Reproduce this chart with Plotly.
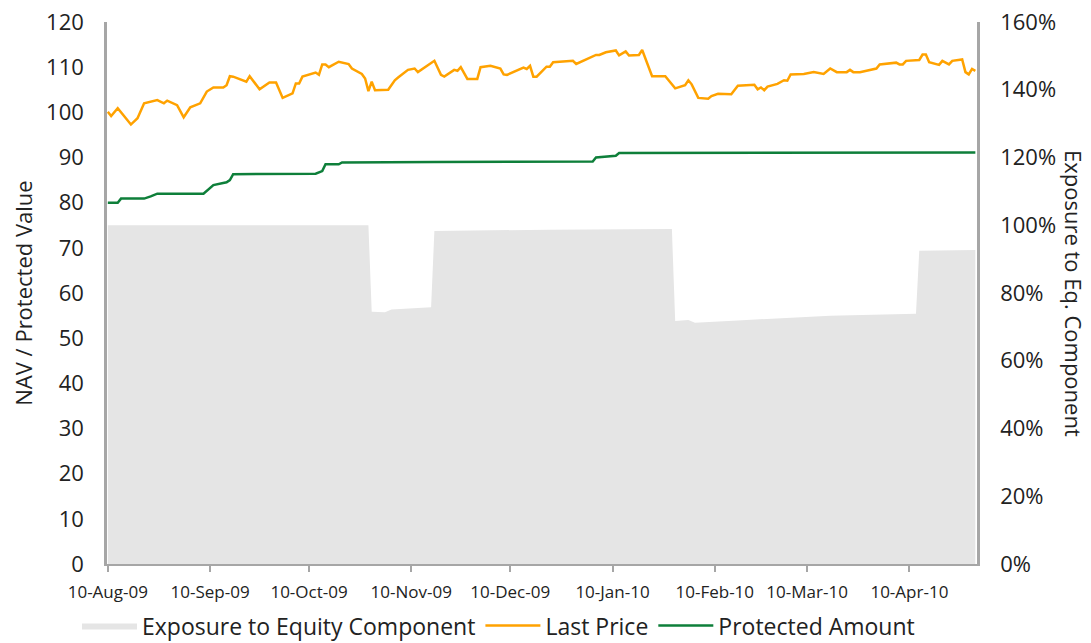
import plotly.graph_objects as go

# ---- Data ----
price_dates = [
    "2009-08-10", "2009-08-11", "2009-08-13", "2009-08-17", "2009-08-19", "2009-08-21",
    "2009-08-25", "2009-08-27", "2009-08-28", "2009-08-31", "2009-09-02", "2009-09-04",
    "2009-09-07", "2009-09-09", "2009-09-11", "2009-09-14", "2009-09-15", "2009-09-16",
    "2009-09-17", "2009-09-21", "2009-09-22", "2009-09-24", "2009-09-25", "2009-09-28",
    "2009-09-30", "2009-10-02", "2009-10-05", "2009-10-06", "2009-10-07", "2009-10-08",
    "2009-10-12", "2009-10-13", "2009-10-14", "2009-10-15", "2009-10-16", "2009-10-19",
    "2009-10-22", "2009-10-23", "2009-10-26", "2009-10-27", "2009-10-28", "2009-10-29",
    "2009-10-30", "2009-11-03", "2009-11-05", "2009-11-06", "2009-11-09", "2009-11-11",
    "2009-11-12", "2009-11-17", "2009-11-19", "2009-11-20", "2009-11-23", "2009-11-24",
    "2009-11-25", "2009-11-27", "2009-11-30", "2009-12-01", "2009-12-04", "2009-12-07",
    "2009-12-08", "2009-12-09", "2009-12-11", "2009-12-14", "2009-12-15", "2009-12-16",
    "2009-12-17", "2009-12-18", "2009-12-21", "2009-12-22", "2009-12-23", "2009-12-29",
    "2009-12-30", "2010-01-05", "2010-01-06", "2010-01-08", "2010-01-11", "2010-01-12",
    "2010-01-14", "2010-01-15", "2010-01-18", "2010-01-19", "2010-01-22", "2010-01-25",
    "2010-01-26", "2010-01-27", "2010-01-29", "2010-02-01", "2010-02-02", "2010-02-03",
    "2010-02-05", "2010-02-08", "2010-02-09", "2010-02-11", "2010-02-15", "2010-02-17",
    "2010-02-19", "2010-02-22", "2010-02-23", "2010-02-24", "2010-02-25", "2010-02-26",
    "2010-03-01", "2010-03-03", "2010-03-04", "2010-03-05", "2010-03-09", "2010-03-12",
    "2010-03-15", "2010-03-17", "2010-03-19", "2010-03-22", "2010-03-23", "2010-03-24",
    "2010-03-26", "2010-03-31", "2010-04-01", "2010-04-06", "2010-04-07", "2010-04-08",
    "2010-04-09", "2010-04-13", "2010-04-14", "2010-04-15", "2010-04-16", "2010-04-19",
    "2010-04-20", "2010-04-22", "2010-04-23", "2010-04-26", "2010-04-27", "2010-04-28",
    "2010-04-29", "2010-04-30",
]
last_price = [
    100.1, 99.2, 100.9, 97.3, 98.7, 102.0,
    102.7, 102.0, 102.6, 101.6, 98.9, 101.1,
    102.0, 104.6, 105.5, 105.5, 106.0, 108.0,
    107.9, 106.8, 108.0, 106.0, 105.1, 106.6,
    106.6, 103.2, 104.2, 106.4, 106.4, 107.9,
    108.8, 108.3, 110.6, 110.6, 110.0, 111.2,
    110.7, 109.7, 108.5, 107.5, 104.7, 106.8,
    104.9, 105.0, 107.1, 107.7, 109.4, 109.7,
    108.9, 111.4, 108.3, 107.9, 109.4, 109.2,
    110.0, 107.4, 107.4, 110.0, 110.3, 109.7,
    108.4, 108.3, 109.0, 109.9, 109.6, 110.3,
    107.9, 107.9, 110.1, 110.1, 111.1, 111.4,
    110.7, 112.7, 112.7, 113.3, 113.7, 112.6,
    113.5, 112.6, 112.7, 113.8, 108.0, 108.0,
    108.0, 107.1, 105.3, 106.0, 107.1, 106.2,
    103.2, 103.0, 103.6, 104.1, 104.0, 105.9,
    106.0, 106.1, 105.1, 105.5, 104.9, 105.7,
    106.3, 107.1, 107.0, 108.4, 108.5, 108.9,
    108.5, 109.7, 108.9, 108.9, 109.4, 108.9,
    108.9, 109.7, 110.6, 111.0, 110.6, 110.6,
    111.4, 111.6, 112.8, 112.8, 111.1, 110.5,
    111.4, 110.6, 111.4, 111.7, 108.9, 108.4,
    109.6, 109.2,
]

protected_dates = [
    "2009-08-10", "2009-08-13", "2009-08-14", "2009-08-21", "2009-08-23", "2009-08-25",
    "2009-09-08", "2009-09-11", "2009-09-15", "2009-09-16", "2009-09-17", "2009-10-12",
    "2009-10-14", "2009-10-15", "2009-10-19", "2009-10-20", "2009-11-17", "2010-01-04",
    "2010-01-05", "2010-01-08", "2010-01-11", "2010-01-12", "2010-01-19", "2010-01-20",
    "2010-04-30",
]
protected_amount = [
    80.0, 80.0, 80.9, 80.9, 81.4, 82.0,
    82.0, 83.9, 84.5, 85.0, 86.3, 86.4,
    87.0, 88.5, 88.5, 88.9, 89.0, 89.1,
    90.0, 90.2, 90.4, 91.0, 91.0, 91.1,
    91.1,
]

exposure_dates = [
    "2009-08-10", "2009-10-28", "2009-10-29", "2009-11-02", "2009-11-04", "2009-11-16",
    "2009-11-17", "2009-12-22", "2010-01-28", "2010-01-29", "2010-02-02", "2010-02-04",
    "2010-02-17", "2010-03-04", "2010-03-17", "2010-04-12", "2010-04-13", "2010-04-30",
]
exposure_pct = [
    100.0, 100.0, 74.5, 74.3, 75.1, 75.8,
    98.3, 98.7, 98.9, 71.7, 72.0, 71.2,
    71.9, 72.7, 73.3, 73.9, 92.5, 92.7,
]

tick_dates = [
    "2009-08-10", "2009-09-10", "2009-10-10", "2009-11-10", "2009-12-10",
    "2010-01-10", "2010-02-10", "2010-03-10", "2010-04-10",
]
tick_labels = [
    "10-Aug-09", "10-Sep-09", "10-Oct-09", "10-Nov-09", "10-Dec-09",
    "10-Jan-10", "10-Feb-10", "10-Mar-10", "10-Apr-10",
]
left_ticks = [0, 10, 20, 30, 40, 50, 60, 70, 80, 90, 100, 110, 120]
right_ticks = [0, 20, 40, 60, 80, 100, 120, 140, 160]
right_labels = ["0%", "20%", "40%", "60%", "80%", "100%", "120%", "140%", "160%"]

FONT = "Open Sans"
TXT = "#222222"
AXIS = "#a6a6a6"

fig = go.Figure()

fig.add_trace(go.Scatter(
    x=exposure_dates, y=exposure_pct, yaxis="y2",
    name="Exposure to Equity Component",
    mode="lines", line=dict(width=0, color="#e5e5e5"),
    fill="tozeroy", fillcolor="#e5e5e5",
))
fig.add_trace(go.Scatter(
    x=price_dates, y=last_price, name="Last Price",
    mode="lines", line=dict(color="#ffa200", width=2.5),
))
fig.add_trace(go.Scatter(
    x=protected_dates, y=protected_amount, name="Protected Amount",
    mode="lines", line=dict(color="#0e7f3a", width=2.5),
))

fig.update_layout(
    width=1091, height=643,
    margin=dict(l=107, r=114, t=22, b=79, autoexpand=False),
    paper_bgcolor="white", plot_bgcolor="white",
    font=dict(family=FONT, color=TXT, size=22),
    showlegend=True,
    legend=dict(
        orientation="h", x=0.45, xanchor="center", y=-0.074, yanchor="top",
        font=dict(family=FONT, size=23, color=TXT),
        itemwidth=55, tracegroupgap=0, traceorder="normal",
    ),
    xaxis=dict(
        type="date",
        range=["2009-08-09T18:00", "2010-04-30T12:00"],
        tickmode="array", tickvals=tick_dates, ticktext=tick_labels,
        tickfont=dict(family=FONT, size=17, color=TXT),
        ticks="outside", ticklen=6, tickcolor=AXIS, tickwidth=1.5,
        ticklabelstandoff=6,
        showline=True, linecolor=AXIS, linewidth=2,
        showgrid=False, zeroline=False,
    ),
    yaxis=dict(
        range=[0, 120], tickmode="array", tickvals=left_ticks,
        tickfont=dict(family=FONT, size=22, color=TXT),
        ticks="", ticklabelstandoff=16,
        showline=True, linecolor=AXIS, linewidth=2.5,
        showgrid=False, zeroline=False,
        title=dict(text="NAV / Protected Value", font=dict(family=FONT, size=22, color=TXT), standoff=8),
    ),
    yaxis2=dict(
        range=[0, 160], overlaying="y", side="right",
        tickmode="array", tickvals=right_ticks, ticktext=right_labels,
        tickfont=dict(family=FONT, size=22, color=TXT),
        ticks="", ticklabelstandoff=16,
        showline=True, linecolor=AXIS, linewidth=2.5,
        showgrid=False, zeroline=False,
    ),
    annotations=[dict(
        text="Exposure to Eq. Component", textangle=90,
        xref="paper", yref="paper", x=1.0, y=0.5,
        xshift=97, xanchor="center", yanchor="middle",
        showarrow=False, font=dict(family=FONT, size=22, color=TXT),
    )],
)

fig.write_html(
    "out.html",
    config={"displayModeBar": False},
    post_script="document.body.style.margin='0';document.body.style.overflow='hidden';",
)
